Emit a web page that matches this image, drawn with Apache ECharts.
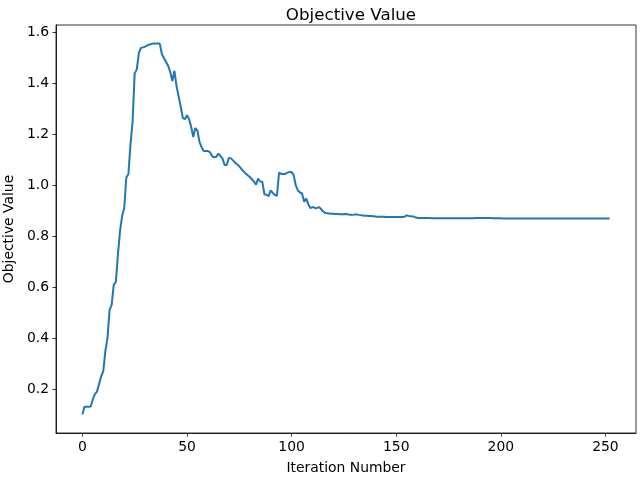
<!DOCTYPE html>
<html>
<head>
<meta charset="utf-8">
<script src="https://cdn.jsdelivr.net/npm/echarts@6/dist/echarts.min.js"></script>
<style>
  html, body { margin: 0; padding: 0; background: #fff; }
  #chart { width: 640px; height: 480px; }
</style>
</head>
<body>
<div id="chart"></div>
<script>
// objective value per iteration (0..252)
const objective = [
  0.100, 0.130, 0.130, 0.130, 0.131, 0.160, 0.180, 0.190, 0.220, 0.250,
  0.270, 0.350, 0.400, 0.510, 0.530, 0.610, 0.620, 0.730, 0.820, 0.880,
  0.910, 1.030, 1.045, 1.160, 1.250, 1.440, 1.455, 1.520, 1.540, 1.542,
  1.545, 1.550, 1.553, 1.555, 1.557, 1.557, 1.557, 1.557, 1.515, 1.500,
  1.485, 1.470, 1.445, 1.410, 1.450, 1.390, 1.350, 1.310, 1.265, 1.260,
  1.275, 1.260, 1.230, 1.190, 1.225, 1.215, 1.170, 1.150, 1.135, 1.135,
  1.135, 1.130, 1.115, 1.110, 1.112, 1.125, 1.115, 1.105, 1.080, 1.080,
  1.108, 1.106, 1.098, 1.090, 1.082, 1.075, 1.065, 1.055, 1.047, 1.040,
  1.033, 1.024, 1.015, 1.003, 1.027, 1.015, 1.014, 0.965, 0.963, 0.958,
  0.980, 0.970, 0.962, 0.959, 1.050, 1.045, 1.045, 1.045, 1.050, 1.052,
  1.052, 1.040, 1.000, 0.980, 0.972, 0.968, 0.936, 0.948, 0.925, 0.910,
  0.915, 0.912, 0.910, 0.915, 0.908, 0.898, 0.892, 0.890, 0.889, 0.888,
  0.888, 0.887, 0.887, 0.886, 0.886, 0.886, 0.887, 0.886, 0.884, 0.884,
  0.885, 0.886, 0.884, 0.883, 0.882, 0.881, 0.881, 0.880, 0.880, 0.879,
  0.878, 0.877, 0.877, 0.877, 0.877, 0.876, 0.876, 0.876, 0.876, 0.876,
  0.876, 0.876, 0.876, 0.876, 0.877, 0.882, 0.880, 0.879, 0.878, 0.875,
  0.873, 0.872, 0.872, 0.872, 0.872, 0.872, 0.872, 0.871, 0.871, 0.871,
  0.871, 0.871, 0.871, 0.871, 0.871, 0.871, 0.871, 0.871, 0.871, 0.871,
  0.871, 0.871, 0.871, 0.871, 0.871, 0.871, 0.871, 0.871, 0.872, 0.872,
  0.872, 0.872, 0.872, 0.872, 0.872, 0.872, 0.871, 0.871, 0.871, 0.871,
  0.871, 0.870, 0.870, 0.870, 0.870, 0.870, 0.870, 0.870, 0.870, 0.870,
  0.870, 0.870, 0.870, 0.870, 0.870, 0.870, 0.870, 0.870, 0.870, 0.870,
  0.870, 0.870, 0.870, 0.870, 0.870, 0.870, 0.870, 0.870, 0.870, 0.870,
  0.870, 0.870, 0.870, 0.870, 0.870, 0.870, 0.870, 0.870, 0.870, 0.870,
  0.870, 0.870, 0.870, 0.870, 0.870, 0.870, 0.870, 0.870, 0.870, 0.870,
  0.870, 0.870, 0.870
];
const xTicks = [0, 50, 100, 150, 200, 250];
const yTicks = [0.2, 0.4, 0.6, 0.8, 1.0, 1.2, 1.4, 1.6];

const font = 'DejaVu Sans';
const points = objective.map((v, i) => [i, v]);

const chart = echarts.init(document.getElementById('chart'), null, { renderer: 'canvas' });
chart.setOption({
  animation: false,
  backgroundColor: '#fff',
  title: {
    text: 'Objective Value',
    left: 346,
    top: 2,
    textAlign: 'center',
    textStyle: { fontFamily: font, fontSize: 16.7, fontWeight: 'normal', color: '#000' }
  },
  grid: {
    left: 56, right: 4, top: 25, bottom: 47,
    outerBoundsMode: 'none',
    containLabel: false,
    show: true, borderColor: '#000', borderWidth: 0.8, backgroundColor: 'transparent'
  },
  xAxis: {
    type: 'value',
    min: -12.6,
    max: 264.6,
    name: 'Iteration Number',
    nameLocation: 'middle',
    nameGap: 28,
    nameTextStyle: { fontFamily: font, fontSize: 13.9, color: '#000' },
    splitLine: { show: false },
    axisLine: { show: true, onZero: false, lineStyle: { color: '#000', width: 0.8 } },
    axisTick: { show: true, length: 3.5, customValues: xTicks, lineStyle: { color: '#000', width: 0.8 } },
    axisLabel: { customValues: xTicks, margin: 7, fontFamily: font, fontSize: 13.9, color: '#000' }
  },
  yAxis: {
    type: 'value',
    min: 0.027,
    max: 1.630,
    name: 'Objective Value',
    nameLocation: 'middle',
    nameGap: 36,
    nameTextStyle: { fontFamily: font, fontSize: 13.9, color: '#000' },
    splitLine: { show: false },
    axisLine: { show: true, onZero: false, lineStyle: { color: '#000', width: 0.8 } },
    axisTick: { show: true, length: 3.5, customValues: yTicks, lineStyle: { color: '#000', width: 0.8 } },
    axisLabel: {
      customValues: yTicks, margin: 7, fontFamily: font, fontSize: 13.9, color: '#000',
      formatter: v => v.toFixed(1)
    }
  },
  series: [{
    type: 'line',
    data: points,
    showSymbol: false,
    lineStyle: { color: '#1f77b4', width: 2 },
    itemStyle: { color: '#1f77b4' }
  }]
});
</script>
</body>
</html>
